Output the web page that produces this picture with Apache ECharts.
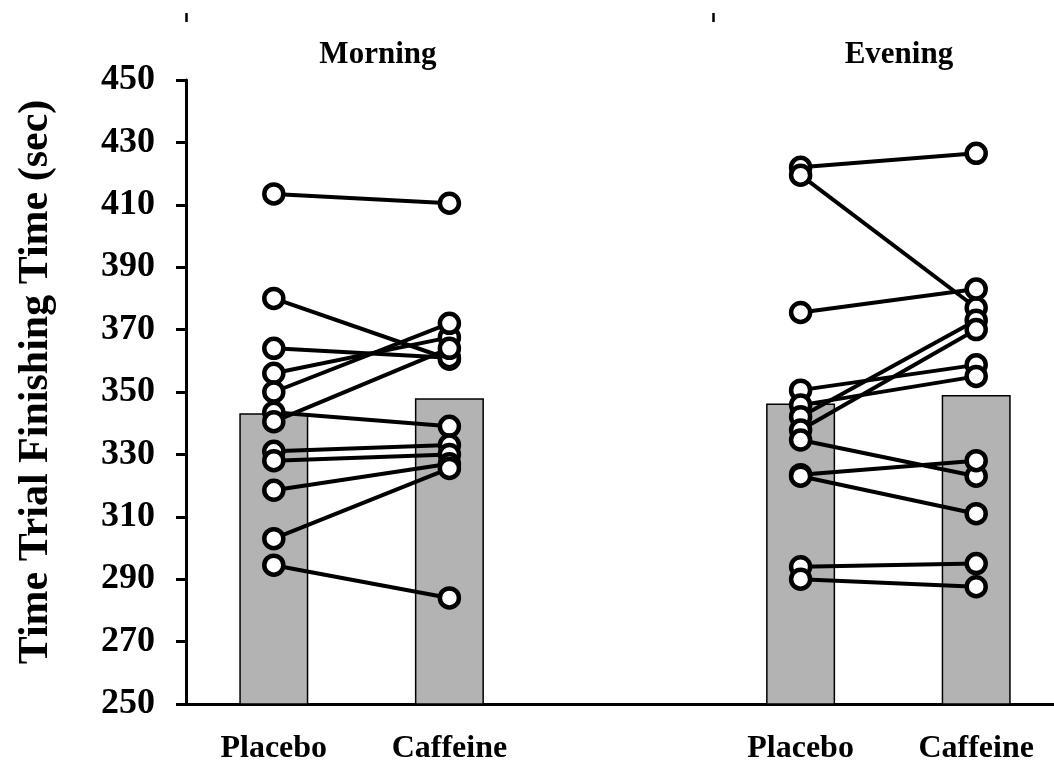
<!DOCTYPE html>
<html>
<head>
<meta charset="utf-8">
<script src="https://cdn.jsdelivr.net/npm/echarts@6/dist/echarts.min.js"></script>
<style>
html,body{margin:0;padding:0;background:#fff;}
#chart{width:1054px;height:768px;}
</style>
</head>
<body>
<div id="chart"></div>
<script>
// ---- data ----
var categories = ['Placebo', 'Caffeine', '', 'Placebo', 'Caffeine'];
var sessions = ['Morning', 'Evening'];
var yTicks = [250, 270, 290, 310, 330, 350, 370, 390, 410, 430, 450];

// group means (bars)
var barMeans = [343.2, 348.0, null, 346.3, 349.0];

// individual subjects (same index = same subject)
var morningPlacebo  = [413.5, 380, 364, 356, 350, 343.5, 340.5, 331, 328, 318.5, 303, 294.5];
var morningCaffeine = [410.5, 360.5, 361, 367.5, 372, 339, 364, 333, 330, 327, 325.5, 284];
var eveningPlacebo  = [422, 419.5, 375.5, 350.6, 345.8, 342.1, 337.8, 334.6, 323.5, 323, 294, 290];
var eveningCaffeine = [426.5, 377, 383, 358.7, 355, 373, 370, 323, 328, 311, 295, 287.6];

var chart = echarts.init(document.getElementById('chart'));

var serifFont = '"Liberation Serif", "Times New Roman", serif';

var series = [];
series.push({
  type: 'bar',
  data: barMeans,
  barWidth: 69,
  xAxisIndex: 0,
  itemStyle: { color: '#b3b3b3', borderColor: '#000', borderWidth: 1.5 },
  silent: true,
  z: 1
});

function addLines(pl, ca, xi0, xi1) {
  for (var i = 0; i < pl.length; i++) {
    series.push({
      type: 'line',
      xAxisIndex: 0,
      data: [[xi0, pl[i]], [xi1, ca[i]]],
      showSymbol: false,
      symbol: 'none',
      lineStyle: { color: '#000', width: 4 },
      silent: true,
      z: 2
    });
  }
}
addLines(morningPlacebo, morningCaffeine, 0, 1);
addLines(eveningPlacebo, eveningCaffeine, 3, 4);

function addPoints(vals, xi) {
  series.push({
    type: 'scatter',
    xAxisIndex: 0,
    data: vals.map(function (v) { return [xi, v]; }),
    symbol: 'circle',
    symbolSize: 19,
    itemStyle: { color: '#fff', borderColor: '#000', borderWidth: 4.5, opacity: 1 },
    silent: true,
    z: 3
  });
}
addPoints(morningPlacebo, 0);
addPoints(morningCaffeine, 1);
addPoints(eveningPlacebo, 3);
addPoints(eveningCaffeine, 4);

var option = {
  animation: false,
  backgroundColor: '#fff',
  grid: { left: 186, top: 80, width: 878, height: 624, containLabel: false, outerBoundsMode: 'none' },
  xAxis: [
    {
      type: 'category',
      data: categories,
      position: 'bottom',
      boundaryGap: true,
      axisLine: { show: true, lineStyle: { color: '#000', width: 3 } },
      axisTick: { show: false },
      splitLine: { show: false },
      axisLabel: {
        show: true, interval: 0, margin: 29,
        color: '#000', fontFamily: serifFont, fontWeight: 'bold', fontSize: 32
      }
    },
    {
      type: 'value',
      position: 'top',
      min: 0, max: 5,
      offset: 58,
      axisLine: { show: false },
      splitLine: { show: false },
      axisTick: {
        show: true, customValues: [0, 3], length: 9, inside: false,
        lineStyle: { color: '#000', width: 2.5 }
      },
      axisLabel: {
        show: true, inside: true, margin: 17,
        customValues: [1.093, 4.06],
        formatter: function (v) { return v < 2.5 ? sessions[0] : sessions[1]; },
        color: '#000', fontFamily: serifFont, fontWeight: 'bold', fontSize: 31
      }
    }
  ],
  yAxis: {
    type: 'value',
    min: yTicks[0], max: yTicks[yTicks.length - 1], interval: 20,
    name: 'Time Trial Finishing Time (sec)',
    nameLocation: 'middle',
    nameGap: 129,
    nameTextStyle: { color: '#000', fontFamily: serifFont, fontWeight: 'bold', fontSize: 42, padding: [0, 0, 0, 20] },
    axisLine: { show: true, lineStyle: { color: '#000', width: 3 } },
    axisTick: { show: true, length: 10, inside: false, lineStyle: { color: '#000', width: 3 } },
    splitLine: { show: false },
    axisLabel: { color: '#000', fontFamily: serifFont, fontWeight: 'bold', fontSize: 36, margin: 31 }
  },
  series: series
};
chart.setOption(option);
</script>
</body>
</html>
